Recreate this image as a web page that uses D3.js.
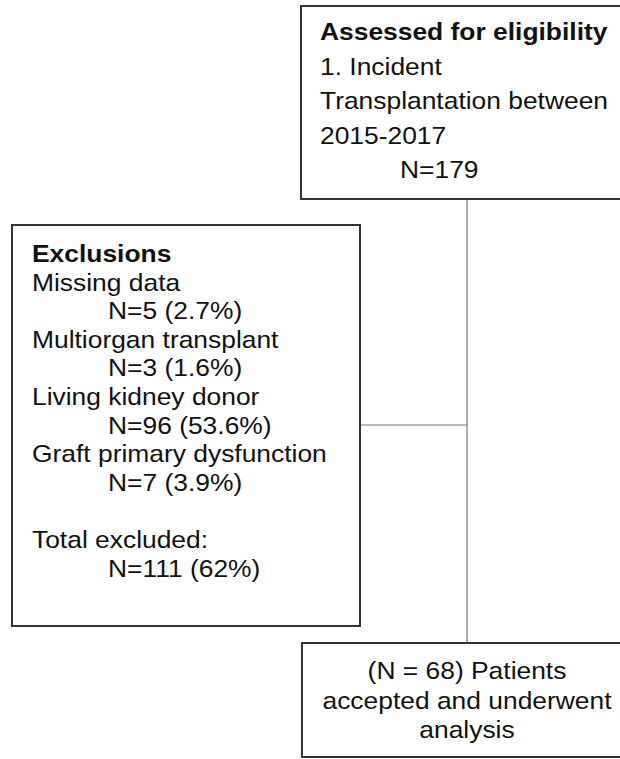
<!DOCTYPE html>
<html>
<head>
<meta charset="utf-8">
<script src="https://cdn.jsdelivr.net/npm/d3@7"></script>
<style>
  html, body { margin: 0; padding: 0; background: #fff; }
  svg { display: block; }
  text { font-family: "Liberation Sans", Arial, Helvetica, sans-serif; fill: #111; }
</style>
</head>
<body>
<svg id="chart" width="620" height="759"></svg>
<script>
// ---- data ----
const totalAssessed = 179;
const assessedTitle = "Assessed for eligibility";
const assessedLines = ["1. Incident", "Transplantation between", "2015-2017"];
const exclusionReasons = ["Missing data", "Multiorgan transplant", "Living kidney donor", "Graft primary dysfunction"];
const exclusionCounts = [5, 3, 96, 7];
const exclusionPercents = ["2.7%", "1.6%", "53.6%", "3.9%"];
const totalExcluded = 111;
const totalExcludedPct = "62%";
const acceptedCount = 68;
const acceptedLines = ["(N = " + acceptedCount + ") Patients", "accepted and underwent", "analysis"];

// ---- layout ----
const svg = d3.select("#chart");
const fontSize = 24, sx = 1.1;
const boxStroke = "#333";

const boxes = [
  {id: "top", x: 301, y: 6, w: 330, h: 193},
  {id: "excl", x: 12, y: 225, w: 348, h: 401},
  {id: "bottom", x: 302, y: 643, w: 330, h: 114}
];
const spineX = 467;

// connectors
svg.append("line").attr("x1", spineX).attr("x2", spineX)
  .attr("y1", boxes[0].y + boxes[0].h).attr("y2", boxes[2].y)
  .attr("stroke", "#777").attr("stroke-width", 1.2);
svg.append("line").attr("x1", boxes[1].x + boxes[1].w).attr("x2", spineX)
  .attr("y1", 425).attr("y2", 425)
  .attr("stroke", "#777").attr("stroke-width", 1.2);

svg.selectAll("rect.box").data(boxes).join("rect")
  .attr("class", "box")
  .attr("x", d => d.x).attr("y", d => d.y)
  .attr("width", d => d.w).attr("height", d => d.h)
  .attr("fill", "#fff").attr("stroke", boxStroke).attr("stroke-width", 2);

function addText(x, y, str, opts = {}) {
  svg.append("text")
    .attr("transform", `translate(${x},${y}) scale(${sx},1)`)
    .attr("font-size", fontSize)
    .attr("font-weight", opts.bold ? "bold" : "normal")
    .attr("text-anchor", opts.anchor || "start")
    .text(str);
}

// top box
const topLines = [{t: assessedTitle, bold: true, ind: 0}]
  .concat(assessedLines.map(t => ({t, ind: 0})))
  .concat([{t: "N=" + totalAssessed, ind: 80}]);
topLines.forEach((l, i) => addText(320 + l.ind, 40 + i * 34.6, l.t, l));

// exclusions box
const exLines = [{t: "Exclusions", bold: true, ind: 0}];
exclusionReasons.forEach((r, i) => {
  exLines.push({t: r, ind: 0});
  exLines.push({t: `N=${exclusionCounts[i]} (${exclusionPercents[i]})`, ind: 76});
});
exLines.push({t: "", ind: 0});
exLines.push({t: "Total excluded:", ind: 0});
exLines.push({t: `N=${totalExcluded} (${totalExcludedPct})`, ind: 76});
exLines.forEach((l, i) => { if (l.t) addText(32 + l.ind, 262 + i * 28.6, l.t, l); });

// bottom box
acceptedLines.forEach((t, i) => addText(spineX, 679 + i * 29.5, t, {anchor: "middle"}));
</script>
</body>
</html>
